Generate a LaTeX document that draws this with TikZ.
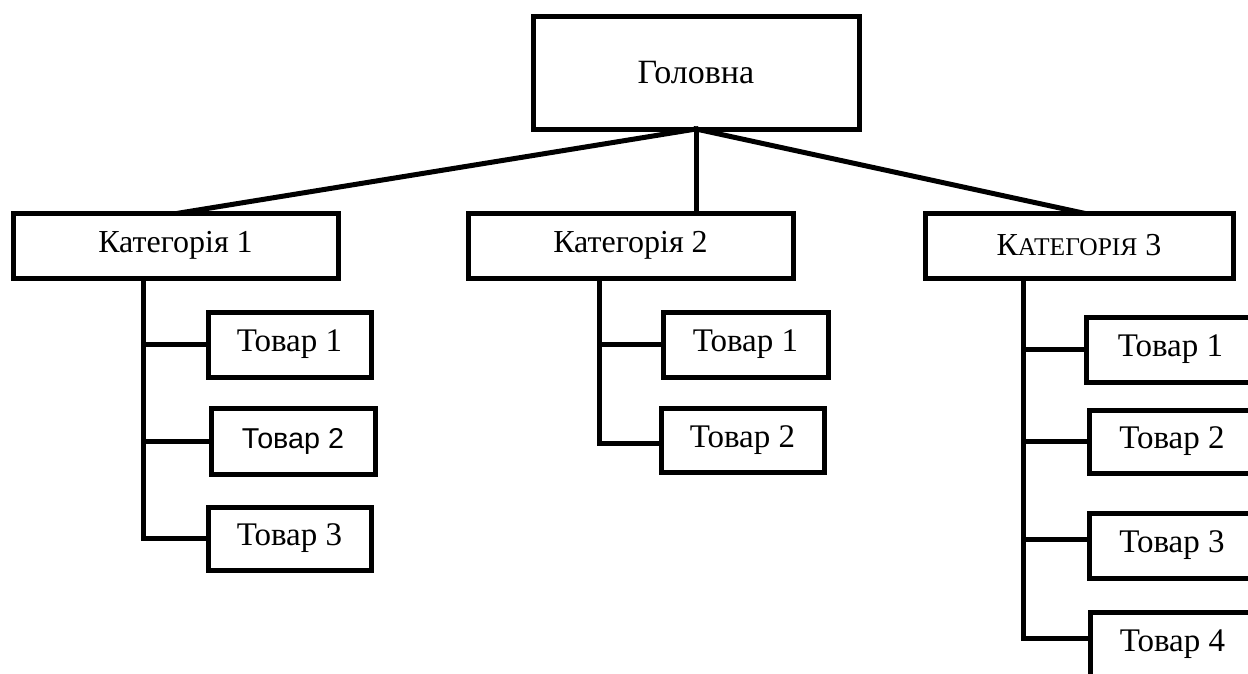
\documentclass[tikz,border=0pt]{standalone}
\usepackage{fontspec}
\setmainfont{Liberation Serif}
\newfontfamily\sansfam{Liberation Sans}
\begin{document}
\begin{tikzpicture}[x=1pt,y=-1pt,
  line width=5pt,
  box/.style={draw=black, fill=white, anchor=north west, inner sep=0pt, outer sep=0pt,
    font=\fontsize{33}{38}\selectfont},
  catbox/.style={box, minimum height=65pt, font=\fontsize{32}{37}\selectfont},
  link/.style={draw=black, line width=5pt, line cap=rect}]
\useasboundingbox (0,0) rectangle (1248,673);
\fill[white] (0,0) rectangle (1248,673);
\clip (0,0) rectangle (1248,673);

% root
\node[box, minimum width=326pt, minimum height=113pt, font=\fontsize{34}{39}\selectfont] (root) at (533,16) {Головна};

% categories
\node[catbox, minimum width=325pt] (c1) at (13,213) {Категорія 1};
\node[catbox, minimum width=325pt] (c2) at (468,213) {Категорія 2};
\node[catbox, minimum width=308pt] (c3) at (925,213)
  {К{\fontsize{25.5}{30}\selectfont АТЕГОРІЯ} 3};

% products of category 1
\node[box, minimum width=163pt, minimum height=65pt] (p11) at (208,312) {Товар 1};
\node[box, minimum width=164pt, minimum height=66pt, font=\sansfam\fontsize{28.7}{33}\selectfont] (p12) at (211,408) {Товар 2};
\node[box, minimum width=163pt, minimum height=63pt] (p13) at (208,507) {Товар 3};

% products of category 2
\node[box, minimum width=165pt, minimum height=65pt] (p21) at (663,312) {Товар 1};
\node[box, minimum width=163pt, minimum height=64pt] (p22) at (661,408) {Товар 2};

% products of category 3
\node[box, minimum width=169pt, minimum height=65pt] (p31) at (1086,317) {Товар 1};
\node[box, minimum width=166pt, minimum height=63pt] (p32) at (1089,410) {Товар 2};
\node[box, minimum width=166pt, minimum height=65pt] (p33) at (1089,513) {Товар 3};
\node[box, minimum width=165pt, minimum height=64pt] (p34) at (1090,612) {Товар 4};

% trunk positions
\coordinate (t1) at (143,0);
\coordinate (t2) at (599,0);
\coordinate (t3) at (1023,0);

% root to categories
\draw[link] (root.south) -- ([xshift=4pt]c1.north);
\draw[link] (root.south) -- (root.south |- c2.north);
\draw[link] (root.south) -- ([xshift=4pt]c3.north);

% category 1 tree
\draw[link] (t1 |- c1.south) |- (p13.west);
\draw[link] (t1 |- p11.west) -- (p11.west);
\draw[link] (t1 |- p12.west) -- (p12.west);

% category 2 tree
\draw[link] (t2 |- c2.south) |- ([yshift=-3pt]p22.west);
\draw[link] (t2 |- p21.west) -- (p21.west);

% category 3 tree
\draw[link] (t3 |- c3.south) |- ([yshift=6pt]p34.west);
\draw[link] (t3 |- p31.west) -- (p31.west);
\draw[link] (t3 |- p32.west) -- (p32.west);
\draw[link] ([yshift=6pt]t3 |- p33.west) -- ([yshift=6pt]p33.west);
\end{tikzpicture}
\end{document}
